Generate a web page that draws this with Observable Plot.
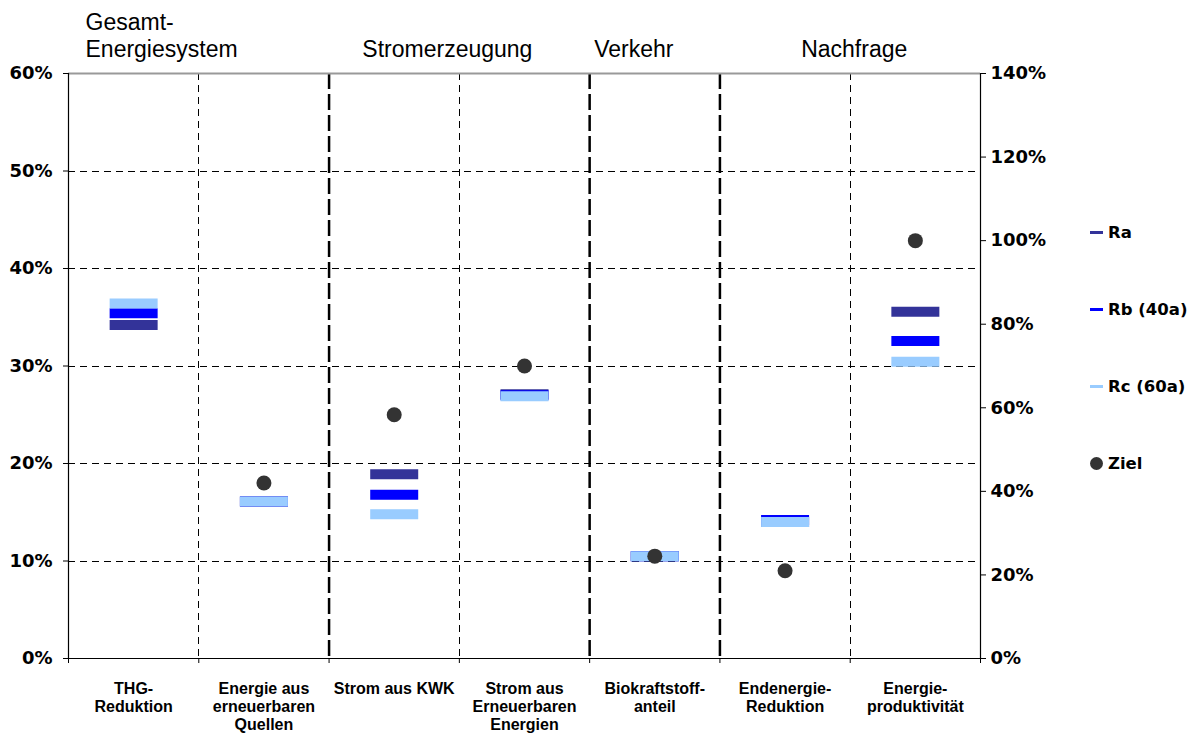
<!DOCTYPE html>
<html>
<head>
<meta charset="utf-8">
<script src="https://cdn.jsdelivr.net/npm/d3@7"></script>
<script src="https://cdn.jsdelivr.net/npm/@observablehq/plot@0.6"></script>
<style>
  body { margin: 0; background: #fff; }
  #wrap { position: relative; width: 1195px; height: 735px; font-family: "Liberation Sans", Arial, sans-serif; }
  #legend { position: absolute; left: 1090px; top: 222px; }
  .item { display: flex; align-items: center; height: 20px; margin-bottom: 57px; font-family: "DejaVu Sans", sans-serif; font-weight: bold; font-size: 16.5px; color: #000; }
  .sw { display: inline-block; width: 13px; height: 3px; margin-right: 5px; }
  .dotsw { display: inline-block; width: 13px; height: 13px; border-radius: 50%; margin-right: 5px; }
</style>
</head>
<body>
<div id="wrap"><div id="chart"></div><div id="legend"></div></div>
<script>
// ---- data ----
const categories = ["THG-\nReduktion", "Energie aus\nerneuerbaren\nQuellen", "Strom aus KWK",
  "Strom aus\nErneuerbaren\nEnergien", "Biokraftstoff-\nanteil", "Endenergie-\nReduktion", "Energie-\nproduktivität"];
const axisSide = ["left", "left", "left", "left", "left", "left", "right"];
const groupNames = ["Gesamt-\nEnergiesystem", "Stromerzeugung", "Verkehr", "Nachfrage"];
const groupSizes = [2, 2, 1, 2];
const Ra   = [34.2, 16.1, 18.9, 27.1, 10.5, 14.0, 83];
const Rb   = [35.4, 16.1, 16.8, 27.0, 10.5, 14.2, 76];
const Rc   = [36.4, 16.1, 14.8, 26.9, 10.5, 14.0, 71];
const Ziel = [null, 18, 25, 30, 10.5, 9, 100];
const seriesNames = ["Ra", "Rb (40a)", "Rc (60a)", "Ziel"];
const leftTicks = [0, 10, 20, 30, 40, 50, 60];
const rightTicks = [0, 20, 40, 60, 80, 100, 120, 140];

// ---- styles ----
const colors = {"Ra": "#333399", "Rb (40a)": "#0000ff", "Rc (60a)": "#99ccff", "Ziel": "#333333"};
const font = "'Liberation Sans', Arial, sans-serif";
const axisFont = "'DejaVu Sans', sans-serif";
const LMAX = 60, RMAX = 140;
const toLeft = v => v * LMAX / RMAX;

// ---- table ----
const seriesValues = [Ra, Rb, Rc, Ziel];
const rows = [];
seriesNames.forEach((s, k) => {
  seriesValues[k].forEach((v, i) => {
    if (v == null) return;
    rows.push({series: s, cat: i + 0.5, value: axisSide[i] === "right" ? toLeft(v) : v});
  });
});
const barRows = rows.filter(d => d.series !== "Ziel");
const zielRows = rows.filter(d => d.series === "Ziel");

// group boundaries
const groupEnds = Array.from(d3.cumsum(groupSizes));
const groupStarts = groupEnds.map((e, i) => e - groupSizes[i]);
const thick = groupEnds.slice(0, -1);
const thin = d3.range(1, categories.length).filter(b => !thick.includes(b));
const groups = groupNames.map((g, i) => ({name: g, start: groupStarts[i], center: (groupStarts[i] + groupEnds[i]) / 2}));
const titleDx = [17, -12, -21, 4];

const rectSymbol = {draw(ctx) { ctx.rect(-24, -5, 48, 10); }};

const titleMarks = groups.map((g, i) => Plot.text([g], {
  x: i === 0 ? "start" : "center", text: "name", textAnchor: i === 0 ? "start" : "middle",
  dx: titleDx[i], frameAnchor: "top", lineAnchor: "bottom", dy: -17, fontSize: 23, lineHeight: 1.17, fill: "#000"
}));

const crisp = {shapeRendering: "crispEdges"};

const chart = Plot.plot({
  width: 1195,
  height: 735,
  marginLeft: 68,
  marginRight: 215,
  marginTop: 73,
  marginBottom: 77,
  style: {fontFamily: font, background: "#fff", color: "#000", overflow: "visible"},
  x: {type: "linear", domain: [0, categories.length]},
  y: {domain: [0, LMAX]},
  marks: [
    Plot.ruleY(leftTicks.filter(t => t > 0 && t < LMAX), {stroke: "#000", strokeDasharray: "7,5", strokeWidth: 1, ...crisp}),
    Plot.ruleX(thin, {stroke: "#000", strokeDasharray: "7,5", strokeWidth: 1, ...crisp}),
    Plot.ruleX(thick, {stroke: "#000", strokeDasharray: "16,5", strokeWidth: 2.5}),
    Plot.ruleY([LMAX], {stroke: "#999", strokeWidth: 2}),
    Plot.ruleY([0], {stroke: "#000", strokeWidth: 1, ...crisp}),
    Plot.ruleX([0, categories.length], {stroke: "#000", strokeWidth: 1.2}),
    Plot.axisY({anchor: "left", ticks: leftTicks, tickFormat: d => d + "%", tickSize: 5, tickPadding: 11,
      fontSize: 18, fontWeight: "bold", fontFamily: axisFont, label: null}),
    Plot.axisY({anchor: "right", ticks: rightTicks.map(toLeft), tickFormat: d => Math.round(d * RMAX / LMAX) + "%",
      tickSize: 5, tickPadding: 5, fontSize: 18, fontWeight: "bold", fontFamily: axisFont, label: null}),
    Plot.axisX({ticks: d3.range(0, categories.length + 1), tickFormat: () => "", tickSize: 5, label: null}),
    Plot.text(categories, {x: (d, i) => i + 0.5, text: d => d, frameAnchor: "bottom", lineAnchor: "top",
      dy: 23, fontSize: 16, fontWeight: "bold", lineHeight: 1.13, fill: "#000"}),
    ...titleMarks,
    Plot.dot(barRows, {x: "cat", y: "value", symbol: rectSymbol, fill: d => colors[d.series], stroke: "none", r: 5}),
    Plot.dot(zielRows, {x: "cat", y: "value", r: 7.5, fill: colors["Ziel"], stroke: "none"})
  ]
});
document.getElementById("chart").appendChild(chart);

// legend
const legend = document.getElementById("legend");
seriesNames.forEach(s => {
  const item = document.createElement("div");
  item.className = "item";
  const sw = document.createElement("span");
  sw.className = s === "Ziel" ? "dotsw" : "sw";
  sw.style.background = colors[s];
  item.appendChild(sw);
  item.appendChild(document.createTextNode(s));
  legend.appendChild(item);
});
</script>
</body>
</html>
